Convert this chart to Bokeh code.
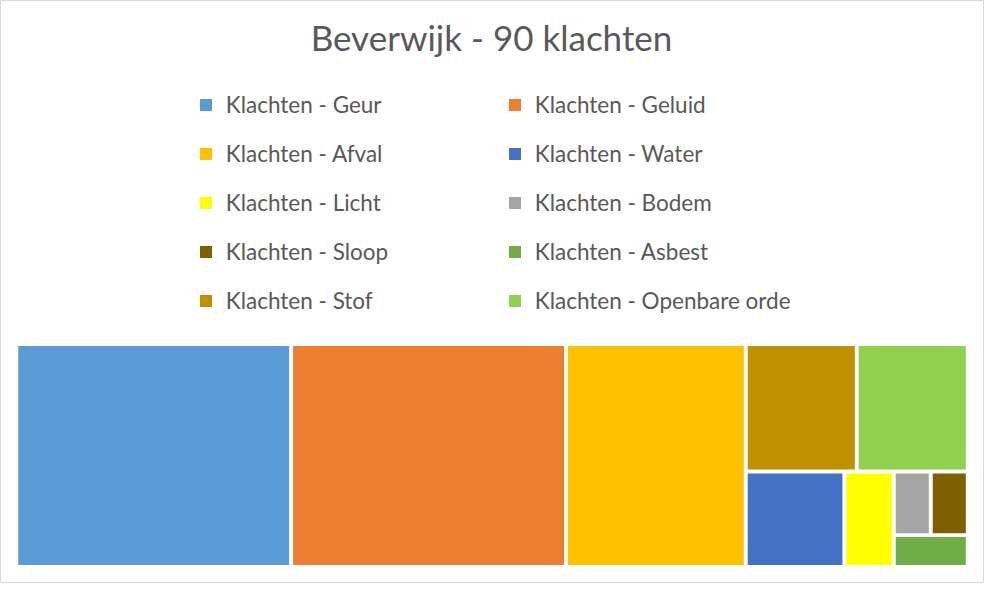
from bokeh.plotting import figure
from bokeh.models import ColumnDataSource, Range1d, Label, Legend, LegendItem
from bokeh.embed import file_html
from bokeh.resources import INLINE

# ---- data ----
categories = ["Klachten - Geur", "Klachten - Geluid", "Klachten - Afval", "Klachten - Water",
              "Klachten - Licht", "Klachten - Bodem", "Klachten - Sloop", "Klachten - Asbest",
              "Klachten - Stof", "Klachten - Openbare orde"]
values = [26, 26, 17, 4, 2, 1, 1, 1, 6, 6]
colors = ["#5B9BD5", "#ED7D31", "#FFC000", "#4472C4", "#FFFF00",
          "#A5A5A5", "#7F6000", "#70AD47", "#BF9000", "#92D050"]
title_text = "Beverwijk - " + str(sum(values)) + " klachten"

FONT = "Lato"
TXT = "#595959"
W, H = 984, 583          # figure size in screen px
RW, RH = 1000, 599       # layout coordinate space
SX, SY = W / RW, H / RH

# ---- squarified treemap layout ----
def worst(row, side):
    s = sum(row)
    return max(max(side * side * r / (s * s), (s * s) / (side * side * r)) for r in row)

def squarify(areas, x, y, dx, dy):
    out = []
    vals = list(areas)
    while vals:
        side = min(dx, dy)
        row = [vals[0]]
        i = 1
        while i < len(vals) and worst(row + [vals[i]], side) <= worst(row, side):
            row.append(vals[i])
            i += 1
        s = sum(row)
        if dx >= dy:
            w = s / dy
            yy = y
            for r in row:
                h = r / w
                out.append((x, yy, w, h))
                yy += h
            x += w
            dx -= w
        else:
            h = s / dx
            xx = x
            for r in row:
                ww = r / h
                out.append((xx, y, ww, h))
                xx += ww
            y += h
            dy -= h
        vals = vals[i:]
    return out

BX0, BY0, BX1, BY1 = 16, 353, 983, 582   # treemap box (incl. half gaps)
GAP = 2
order = sorted(range(len(values)), key=lambda k: -values[k])
total = float(sum(values))
area_box = (BX1 - BX0) * (BY1 - BY0)
areas = [values[k] / total * area_box for k in order]
rects = squarify(areas, BX0, BY0, BX1 - BX0, BY1 - BY0)

left = [0.0] * len(values); right = [0.0] * len(values)
top = [0.0] * len(values); bottom = [0.0] * len(values)
for k, (x, y, w, h) in zip(order, rects):
    left[k] = x + GAP; right[k] = x + w - GAP
    top[k] = y + GAP; bottom[k] = y + h - GAP

src = ColumnDataSource(dict(left=left, right=right, top=top, bottom=bottom,
                            color=colors, cat=categories, val=values))

p = figure(width=W, height=H, output_backend="svg", toolbar_location=None,
           x_range=Range1d(0, RW), y_range=Range1d(RH, 0), min_border=0)
p.axis.visible = False
p.grid.visible = False
p.outline_line_color = "#D9D9D9"
p.outline_line_width = 1
p.background_fill_color = "white"

r = p.quad(left="left", right="right", top="top", bottom="bottom", source=src,
           fill_color="color", line_color=None)

p.add_layout(Label(x=499, y=38, text=title_text, text_align="center",
                   text_baseline="alphabetic", text_font=FONT,
                   text_font_size="35px", text_color=TXT))

ROW1, PITCH, LH = 109 * SY, 50 * SY, 30
SPACING = PITCH - LH
LEG_H = 5 * LH + 4 * SPACING
LEG_Y = H - (ROW1 - LH / 2) - LEG_H

def make_legend(idx, xref):
    items = [LegendItem(label=categories[i], renderers=[r], index=i) for i in idx]
    lg = Legend(items=items, location=(xref * SX, LEG_Y), orientation="vertical",
                padding=0, margin=0, spacing=int(round(SPACING)), label_height=LH,
                glyph_width=15, glyph_height=15, label_standoff=13,
                label_text_font=FONT, label_text_font_size="22.5px",
                label_text_color=TXT, border_line_alpha=0,
                background_fill_alpha=0)
    p.add_layout(lg, "center")

make_legend([0, 2, 4, 6, 8], 201)
make_legend([1, 3, 5, 7, 9], 515)

open("out.html", "w").write(file_html(p, INLINE))
